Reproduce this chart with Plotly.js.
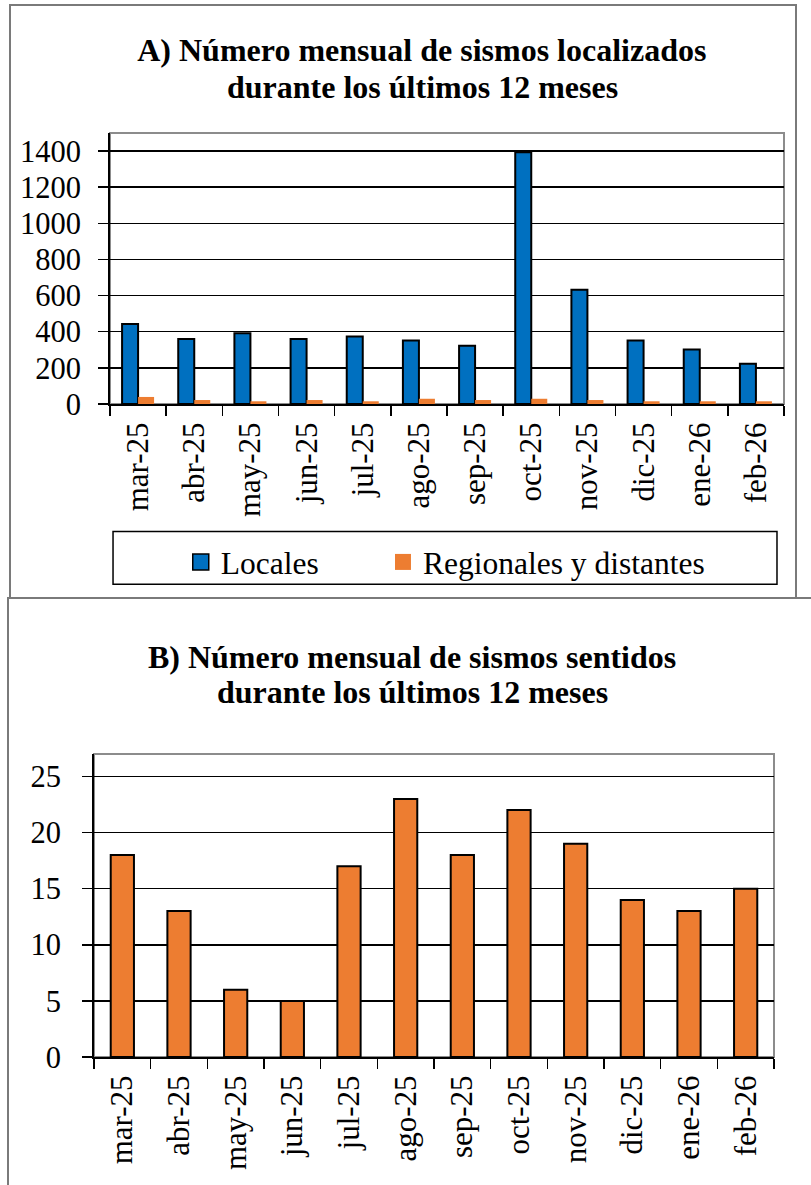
<!DOCTYPE html>
<html>
<head>
<meta charset="utf-8">
<script src="https://cdn.plot.ly/plotly-3.0.1.min.js"></script>
<style>
  html, body { margin: 0; padding: 0; background: #fff; overflow: hidden; width: 811px; height: 1185px; }
  #boxA { position: absolute; left: 9px; top: 4px; width: 788px; height: 596px; border: 2px solid #7a7a7a; box-sizing: border-box; background: #fff; }
  #boxB { position: absolute; left: 7px; top: 597px; width: 830px; height: 600px; border: 2px solid #7a7a7a; box-sizing: border-box; background: #fff; }
  #chartA, #chartB { position: absolute; left: 0; top: 0; }
</style>
</head>
<body>
<div id="boxA"><div id="chartA"></div></div>
<div id="boxB"><div id="chartB"></div></div>
<script>
// ---- Data ----
const months = ["mar-25","abr-25","may-25","jun-25","jul-25","ago-25","sep-25","oct-25","nov-25","dic-25","ene-26","feb-26"];
const locales = [443, 360, 392, 360, 374, 351, 323, 1393, 632, 351, 302, 223];
const regionales = [39, 22, 15, 22, 15, 29, 22, 29, 22, 15, 15, 15];
const sentidos = [18, 13, 6, 5, 17, 23, 18, 22, 19, 14, 13, 15];

const titleA = ["A) Número mensual de sismos localizados", "durante los últimos 12 meses"];
const titleB = ["B) Número mensual de sismos sentidos", "durante los últimos 12 meses"];
const legendNames = ["Locales", "Regionales y distantes"];

const BLUE = "#0070C0";
const ORANGE = "#ED7D31";
const FONT = "Liberation Serif";
const titleFont = { family: FONT, size: 32, color: "#000", weight: "bold" };
const yTickFont = { family: FONT, size: 30.5, color: "#000" };
const xTickFont = { family: FONT, size: 31, color: "#000" };
const legendFont = { family: FONT, size: 31.5, color: "#000" };

// ---- Chart A ----
const tracesA = [
  { type: "bar", x: months, y: locales, name: legendNames[0], showlegend: false,
    marker: { color: BLUE, line: { color: "#000", width: 2 } } },
  { type: "bar", x: months, y: regionales, name: legendNames[1], showlegend: false,
    marker: { color: ORANGE, line: { width: 0 } } },
  { type: "scatter", mode: "markers", x: [null], y: [null], name: legendNames[0], legend: "legend",
    marker: { symbol: "square", size: 17, color: BLUE, line: { color: "#000", width: 1.5 } } },
  { type: "scatter", mode: "markers", x: [null], y: [null], name: legendNames[1], legend: "legend2",
    marker: { symbol: "square", size: 17, color: ORANGE, line: { width: 0 } } }
];

const layoutA = {
  width: 784, height: 592,
  margin: { l: 99, r: 11, t: 127, b: 193 },
  paper_bgcolor: "#fff", plot_bgcolor: "#fff",
  font: { family: FONT, color: "#000", size: 29 },
  title: { text: titleA[0], font: titleFont,
           x: 0.524, xref: "container", xanchor: "center",
           y: 0.9257, yref: "container", yanchor: "middle" },
  annotations: [
    { text: titleA[1], font: titleFont, showarrow: false, xref: "paper", yref: "paper",
      x: 0.463, xanchor: "center", y: 1.169, yanchor: "middle" }
  ],
  barmode: "group", bargap: 0.43, bargroupgap: 0,
  xaxis: { type: "category", tickson: "boundaries", ticks: "outside", ticklen: 10, tickwidth: 1.5, tickcolor: "#000",
           showline: true, linecolor: "#000", linewidth: 2, tickangle: -90, showgrid: false,
           tickfont: xTickFont, ticklabelstandoff: 4 },
  yaxis: { range: [0, 1500], dtick: 200, tick0: 0, ticks: "outside", ticklen: 10, tickwidth: 1.5, tickcolor: "#000",
           showline: true, linecolor: "#000", linewidth: 2, showgrid: true, gridcolor: "#000", gridwidth: 1.5,
           zeroline: false, tickfont: yTickFont, ticklabelstandoff: 11 },
  showlegend: true,
  legend: { orientation: "h", x: 0.105, xanchor: "left", y: -0.577, yanchor: "middle",
            bgcolor: "rgba(0,0,0,0)", borderwidth: 0, font: legendFont },
  legend2: { orientation: "h", x: 0.405, xanchor: "left", y: -0.577, yanchor: "middle",
            bgcolor: "rgba(0,0,0,0)", borderwidth: 0, font: legendFont },
  shapes: [
    { type: "rect", xref: "paper", yref: "paper", x0: 0, x1: 1, y0: 0, y1: 1,
      line: { color: "#8c8c8c", width: 2 }, layer: "below" },
    { type: "rect", xref: "paper", yref: "paper", x0: 0.0045, x1: 0.9896, y0: -0.665, y1: -0.4706,
      line: { color: "#000", width: 1.5 }, layer: "below" }
  ]
};

// ---- Chart B ----
const tracesB = [
  { type: "bar", x: months, y: sentidos, showlegend: false,
    marker: { color: ORANGE, line: { color: "#000", width: 2 } } }
];

const layoutB = {
  width: 826, height: 596,
  margin: { l: 85, r: 61, t: 155, b: 138 },
  paper_bgcolor: "#fff", plot_bgcolor: "#fff",
  font: { family: FONT, color: "#000", size: 29 },
  title: { text: titleB[0], font: titleFont,
           x: 0.488, xref: "container", xanchor: "center",
           y: 0.9027, yref: "container", yanchor: "middle" },
  annotations: [
    { text: titleB[1], font: titleFont, showarrow: false, xref: "paper", yref: "paper",
      x: 0.468, xanchor: "center", y: 1.2046, yanchor: "middle" }
  ],
  bargap: 0.59,
  xaxis: { type: "category", tickson: "boundaries", ticks: "outside", ticklen: 10, tickwidth: 1.5, tickcolor: "#000",
           showline: true, linecolor: "#000", linewidth: 2, tickangle: -90, showgrid: false,
           tickfont: xTickFont, ticklabelstandoff: 4 },
  yaxis: { range: [0, 27], dtick: 5, tick0: 0, ticks: "outside", ticklen: 10, tickwidth: 1.5, tickcolor: "#000",
           showline: true, linecolor: "#000", linewidth: 2, showgrid: true, gridcolor: "#000", gridwidth: 1.5,
           zeroline: false, tickfont: yTickFont, ticklabelstandoff: 15 },
  showlegend: false,
  shapes: [
    { type: "rect", xref: "paper", yref: "paper", x0: 0, x1: 1, y0: 0, y1: 1,
      line: { color: "#8c8c8c", width: 2 }, layer: "below" }
  ]
};

Plotly.newPlot("chartA", tracesA, layoutA, { staticPlot: true, displayModeBar: false });
Plotly.newPlot("chartB", tracesB, layoutB, { staticPlot: true, displayModeBar: false });
</script>
</body>
</html>
